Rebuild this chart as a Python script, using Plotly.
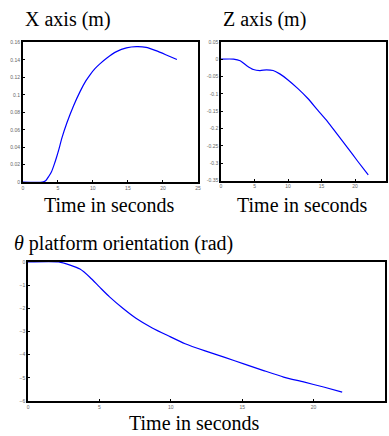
import plotly.graph_objects as go

# X axis (m)
x_t = [0, 2.78, 3.3, 3.72, 4.1, 4.43, 4.8, 5.13, 5.6, 6.3, 7.25, 8.19, 9.0, 9.6, 10.3, 11.0, 11.96, 13.37, 14.8, 16.2, 17.6, 19.0, 20.4, 22.0]
x_v = [0, 0, 0.002, 0.0068, 0.012, 0.019, 0.028, 0.037, 0.051, 0.068, 0.0875, 0.104, 0.116, 0.123, 0.130, 0.1355, 0.142, 0.1495, 0.1538, 0.1552, 0.1544, 0.1506, 0.146, 0.1405]

# Z axis (m)
z_t = [0, 1.87, 2.86, 3.84, 4.83, 5.81, 6.8, 7.78, 8.77, 10.0, 11.48, 12.96, 14.43, 15.9, 17.39, 18.87, 20.34, 21.97]
z_v = [0, 0, -0.0047, -0.019, -0.030, -0.033, -0.031, -0.033, -0.0426, -0.060, -0.085, -0.1135, -0.147, -0.180, -0.218, -0.255, -0.293, -0.334]

# theta platform orientation (rad)
th_t = [0, 2.14, 2.95, 3.64, 4.33, 5.02, 5.71, 6.64, 7.56, 8.7, 9.86, 11.0, 12.4, 13.78, 15.16, 16.5, 17.9, 19.3, 20.7, 22.0]
th_v = [0, 0, -0.14, -0.31, -0.66, -1.09, -1.51, -2.0, -2.43, -2.85, -3.2, -3.53, -3.84, -4.12, -4.41, -4.69, -4.97, -5.18, -5.40, -5.62]

x_ticks = [0, 5, 10, 15, 20, 25]
x_yticks = [0, 0.02, 0.04, 0.06, 0.08, 0.1, 0.12, 0.14, 0.16]
x_ylabels = ["0", "0.02", "0.04", "0.06", "0.08", "0.1", "0.12", "0.14", "0.16"]
z_yticks = [0.05, 0, -0.05, -0.1, -0.15, -0.2, -0.25, -0.3, -0.35]
z_ylabels = ["0.05", "0", "-0.05", "-0.1", "-0.15", "-0.2", "-0.25", "-0.3", "-0.35"]
th_yticks = [0, -1, -2, -3, -4, -5, -6]

W, H = 389, 436
line = dict(color="#0000ff", width=1.2, shape="spline", smoothing=0.6)

fig = go.Figure()
fig.add_trace(go.Scatter(x=x_t, y=x_v, mode="lines", line=line, xaxis="x", yaxis="y"))
fig.add_trace(go.Scatter(x=z_t, y=z_v, mode="lines", line=line, xaxis="x2", yaxis="y2"))
fig.add_trace(go.Scatter(x=th_t, y=th_v, mode="lines", line=line, xaxis="x3", yaxis="y3"))

tickfont = dict(family="Liberation Sans", size=5, color="#666666")
common = dict(showgrid=False, zeroline=False, showline=True, linecolor="black", linewidth=1.5,
              mirror=True, ticks="inside", ticklen=2, tickcolor="black", tickfont=tickfont)

def py(top, bottom):
    return [1 - bottom / H, 1 - top / H]

fig.update_layout(
    width=W, height=H, margin=dict(l=0, r=0, t=0, b=0),
    paper_bgcolor="white", plot_bgcolor="white", showlegend=False,
    xaxis=dict(domain=[22 / W, 199 / W], range=[0, 25], tickvals=x_ticks, anchor="y", **common),
    yaxis=dict(domain=py(40, 181.7), range=[0, 0.16], tickvals=x_yticks, ticktext=x_ylabels, anchor="x", **common),
    xaxis2=dict(domain=[222.3 / W, 1.0], range=[0, 24.62], tickvals=x_ticks[:-1], anchor="y2", **common),
    yaxis2=dict(domain=py(39.3, 180), range=[-0.35, 0.05], tickvals=z_yticks, ticktext=z_ylabels, anchor="x2", **common),
    xaxis3=dict(domain=[27.3 / W, 388 / W], range=[0, 25], tickvals=x_ticks[:-1], anchor="y3", **common),
    yaxis3=dict(domain=py(262.5, 403.5), range=[-6, 0], tickvals=th_yticks, anchor="x3", **common),
)

tfont = dict(family="Liberation Serif", size=20, color="black")
ann = [
    dict(text="X axis (m)", x=22 / W, y=1 - 17 / H, xanchor="left", yanchor="middle"),
    dict(text="Z axis (m)", x=222 / W, y=1 - 17 / H, xanchor="left", yanchor="middle"),
    dict(text="<i>θ</i> platform orientation (rad)", x=11 / W, y=1 - 244 / H, xanchor="left", yanchor="middle"),
    dict(text="Time in seconds", x=110 / W, y=1 - 205 / H, xanchor="center", yanchor="middle"),
    dict(text="Time in seconds", x=305 / W, y=1 - 205 / H, xanchor="center", yanchor="middle"),
    dict(text="Time in seconds", x=196 / W, y=1 - 426 / H, xanchor="center", yanchor="middle"),
]
for a in ann:
    fig.add_annotation(xref="paper", yref="paper", showarrow=False, font=tfont, **a)

fig.write_html("out.html")
